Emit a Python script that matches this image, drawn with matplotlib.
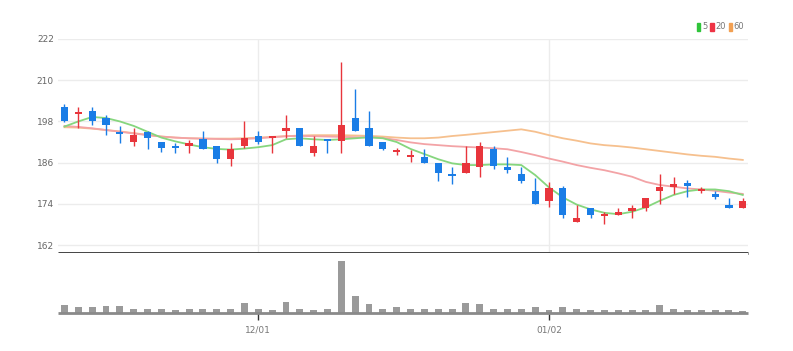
import numpy as np
import matplotlib
matplotlib.use("Agg")
from matplotlib import pyplot as plt
from matplotlib.patches import Patch

# daily candles
opens = [202.1, 200.1, 201.1, 198.9, 195.0, 192.1, 195.0, 191.9, 190.8, 190.8,
         192.9, 190.8, 187.0, 190.8, 193.7, 193.1, 195.2, 196.0, 188.9, 192.9,
         192.2, 198.9, 196.0, 191.9, 189.0, 187.7, 187.7, 185.8, 182.7, 182.9,
         184.8, 189.9, 184.8, 182.7, 177.8, 174.9, 178.7, 168.8, 172.7, 170.4,
         170.7, 172.0, 172.7, 177.8, 178.8, 180.2, 177.7, 176.8, 173.6, 172.9]
highs = [203.1, 202.1, 202.1, 199.9, 196.7, 196.0, 195.2, 191.9, 191.8, 192.6,
         195.2, 190.8, 191.8, 198.1, 195.2, 193.9, 199.9, 196.0, 193.7, 192.9,
         215.3, 207.3, 201.1, 191.9, 190.2, 189.7, 189.9, 185.8, 184.8, 190.8,
         191.9, 190.9, 187.7, 184.8, 181.6, 180.4, 179.3, 173.6, 172.7, 171.7,
         172.7, 173.6, 175.6, 182.7, 181.7, 180.9, 178.8, 177.7, 175.6, 175.6]
lows = [197.9, 196.0, 197.0, 194.0, 191.8, 190.8, 189.9, 189.2, 188.9, 188.9,
        190.0, 185.8, 185.0, 190.2, 191.4, 188.9, 193.1, 190.8, 187.9, 188.9,
        188.9, 195.1, 190.8, 189.8, 188.2, 186.3, 185.8, 180.7, 179.8, 182.9,
        181.9, 184.1, 182.9, 180.0, 173.9, 173.0, 169.8, 168.8, 169.8, 168.1,
        170.7, 169.8, 172.0, 173.9, 176.9, 175.9, 177.2, 175.4, 172.9, 172.9]
closes = [198.2, 200.7, 198.2, 197.0, 194.2, 194.0, 193.1, 190.2, 190.2, 191.8,
          190.0, 187.0, 189.9, 193.1, 191.9, 193.7, 196.0, 190.8, 190.8, 192.3,
          197.1, 195.1, 190.8, 190.1, 189.7, 188.2, 185.8, 182.9, 182.0, 185.8,
          190.8, 185.0, 184.0, 180.7, 173.9, 178.7, 170.7, 169.8, 170.7, 171.0,
          171.7, 172.9, 175.6, 178.8, 179.8, 179.2, 178.2, 176.1, 172.9, 174.8]
volumes = [24, 19, 19, 22, 22, 12, 12, 11, 8, 12,
           13, 12, 13, 31, 13, 9, 33, 13, 9, 13,
           157, 52, 27, 13, 17, 13, 12, 13, 12, 31,
           28, 13, 13, 13, 18, 9, 17, 13, 9, 8,
           8, 8, 8, 24, 13, 9, 8, 8, 9, 7]

# moving averages as drawn (include history before the visible window)
ma5 = [196.5, 198.0, 199.3, 199.0, 198.0, 196.7, 195.0, 193.3, 192.2, 191.3,
       190.5, 190.0, 189.8, 190.1, 190.5, 191.1, 192.8, 193.1, 192.8, 192.6,
       192.8, 193.1, 193.4, 193.1, 192.0, 190.0, 188.5, 187.0, 185.8, 185.3,
       185.3, 185.5, 185.5, 185.3, 182.4, 178.8, 175.9, 173.8, 172.4, 171.4,
       171.0, 171.7, 173.0, 174.9, 176.6, 177.7, 178.2, 178.2, 177.7, 176.6]
ma20 = [196.7, 196.4, 196.0, 195.5, 195.0, 194.5, 194.0, 193.6, 193.3, 193.1,
        193.0, 192.9, 192.8, 192.9, 193.1, 193.4, 193.7, 193.8, 193.7, 193.6,
        193.5, 193.4, 193.4, 193.2, 192.6, 191.9, 191.4, 191.1, 190.8, 190.6,
        190.4, 190.2, 189.9, 189.1, 188.2, 187.2, 186.3, 185.3, 184.5, 183.8,
        182.9, 181.9, 180.4, 179.5, 179.0, 178.5, 178.2, 177.8, 177.3, 176.9]
ma60 = [196.3, 196.2, 195.9, 195.5, 195.1, 194.6, 194.1, 193.6, 193.3, 193.1,
        193.0, 193.0, 193.0, 193.1, 193.3, 193.5, 193.7, 193.9, 194.0, 194.0,
        194.0, 193.9, 193.8, 193.6, 193.3, 193.1, 193.1, 193.3, 193.75, 194.1,
        194.5, 194.9, 195.3, 195.7, 195.0, 194.0, 193.1, 192.4, 191.6, 191.1,
        190.8, 190.4, 189.9, 189.4, 188.9, 188.4, 188.0, 187.7, 187.2, 186.8]

tick_pos = [14, 35]
tick_labels = ["12/01", "01/02"]
price_ticks = [162, 174, 186, 198, 210, 222]

UP = "#e8353c"
DOWN = "#1a7de6"
FONT = ["Liberation Sans Narrow", "DejaVu Sans"]

fig = plt.figure(figsize=(7.93, 3.51), dpi=100)
ax = fig.add_axes([0.0731, 0.2792, 0.8697, 0.6097])
axv = fig.add_axes([0.0731, 0.1083, 0.8697, 0.1709])

x = np.arange(len(opens))
o = np.array(opens)
c = np.array(closes)
up = c >= o
colors = np.where(up, UP, DOWN)

# grid
for p in price_ticks:
    ax.axhline(p, color="#ececec", lw=1, zorder=0)
for t in tick_pos:
    ax.axvline(t, color="#ececec", lw=1, zorder=0)

ax.plot(x, ma60, color="#f6c08e", lw=1.3, zorder=1)
ax.plot(x, ma20, color="#f3a3a6", lw=1.3, zorder=1)
ax.plot(x, ma5, color="#86d67e", lw=1.3, zorder=1)

ax.vlines(x, lows, highs, colors=colors, lw=1, zorder=2)
body = np.maximum(np.abs(c - o), 0.5)
ax.bar(x, body, bottom=np.minimum(o, c), width=0.52, color=colors, zorder=3)

ax.set_xlim(-0.47, 49.35)
ax.set_ylim(159.7, 222)
ax.set_yticks(price_ticks)
ax.set_yticklabels([str(p) for p in price_ticks], family=FONT, fontsize=6.5, color="#666666")
ax.tick_params(axis="y", length=0, pad=3)
ax.set_xticks([])
for s in ["top", "right", "left"]:
    ax.spines[s].set_visible(False)
ax.spines["bottom"].set_color("#333333")
ax.spines["bottom"].set_linewidth(2)
ax.spines["bottom"].set_capstyle("butt")

# volume
axv.bar(x, volumes, width=0.5, color="#9a9a9a", zorder=2)
axv.set_xlim(-0.47, 49.35)
axv.set_ylim(0, 180)
axv.set_yticks([])
axv.set_xticks(tick_pos)
axv.set_xticklabels(tick_labels, family=FONT, fontsize=6.5, color="#777777")
axv.tick_params(axis="x", length=5, width=1, color="#333333", pad=4)
for s in ["top", "right", "left"]:
    axv.spines[s].set_visible(False)
axv.spines["bottom"].set_color("#8a8a8a")
axv.spines["bottom"].set_linewidth(2)
axv.spines["bottom"].set_capstyle("butt")

handles = [Patch(color="#2fc43a"), Patch(color="#ee3344"), Patch(color="#f2a052")]
leg = ax.legend(handles, ["5", "20", "60"], loc="lower right", bbox_to_anchor=(1.0, 1.02),
                ncol=3, frameon=False, handlelength=0.4, handleheight=1.1,
                handletextpad=0.2, columnspacing=0.35, borderaxespad=0,
                prop={"family": FONT, "size": 6})
for t in leg.get_texts():
    t.set_color("#777777")

fig.savefig("out.png", dpi=100)
